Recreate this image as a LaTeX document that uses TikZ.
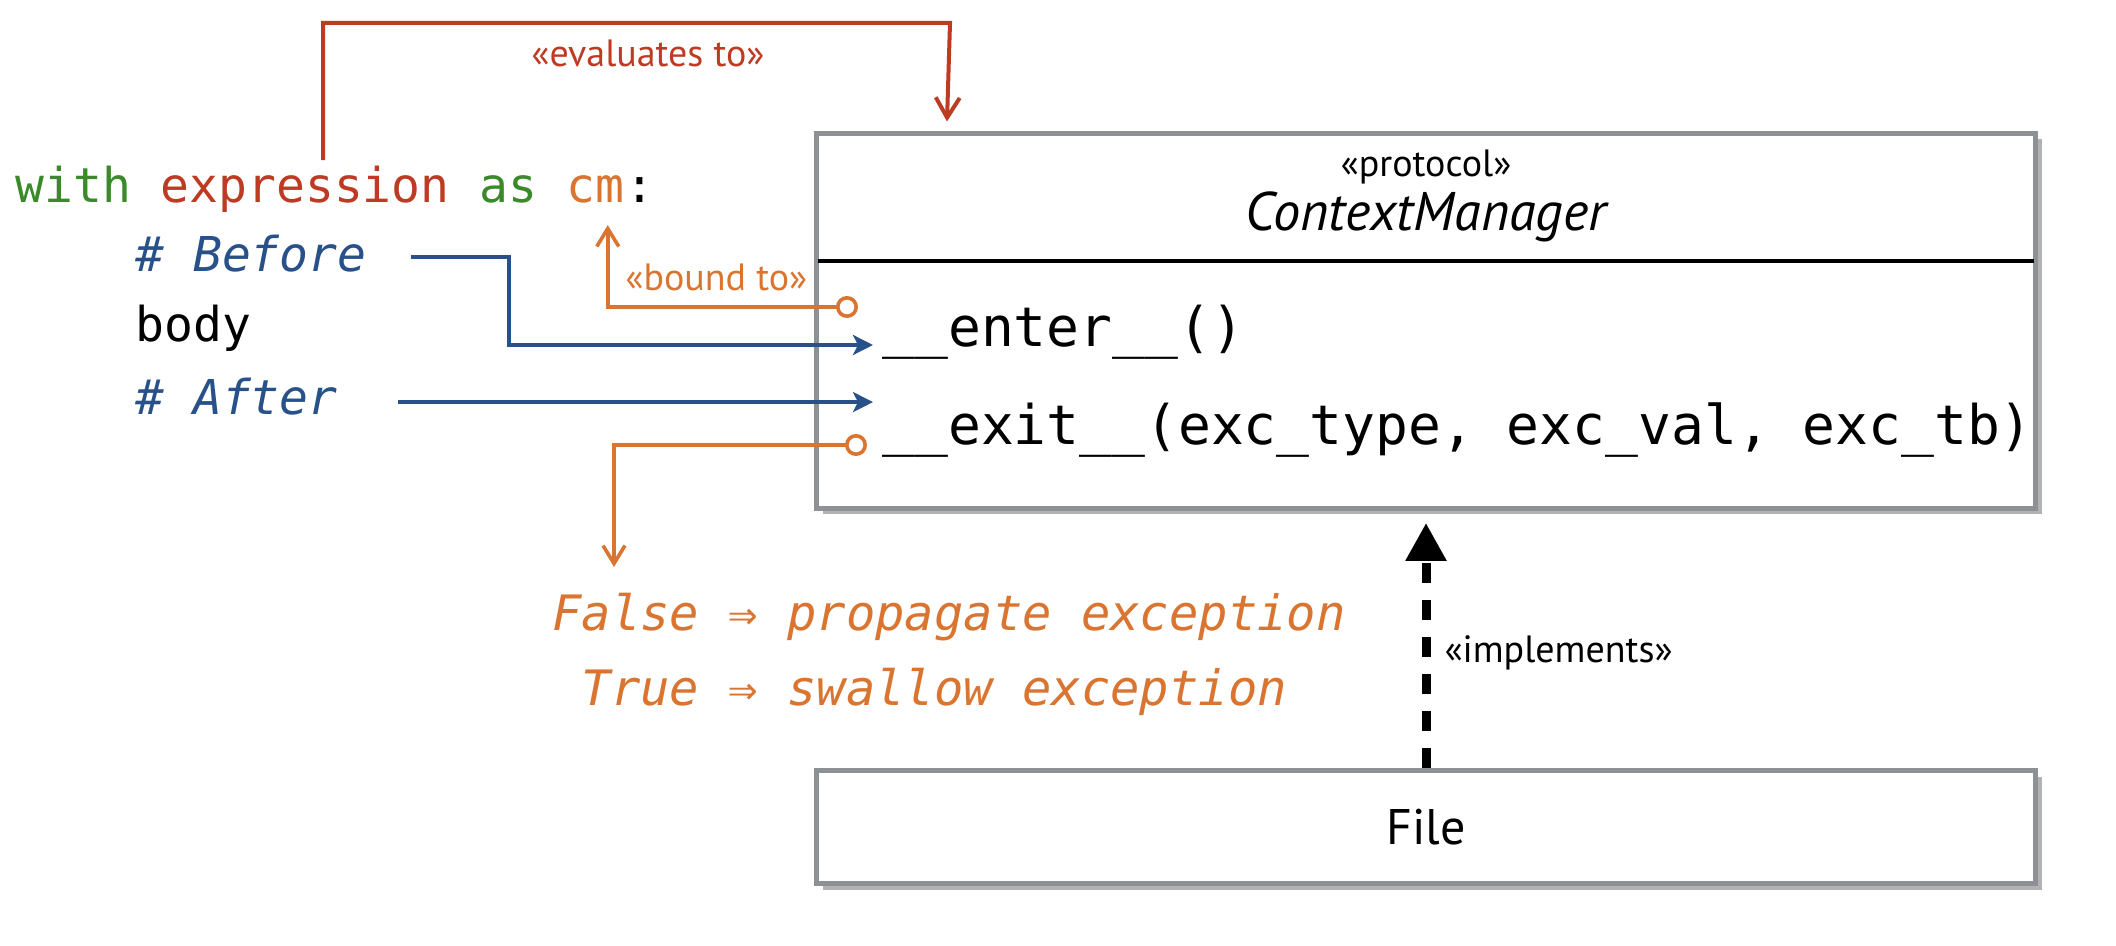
\documentclass[tikz,border=0pt]{standalone}
\usepackage{fontspec}
\setmainfont{PT Sans}
\setmonofont{DejaVu Sans Mono}
\usetikzlibrary{arrows.meta,shadows,positioning}
\definecolor{kwgreen}{HTML}{3A8A2A}
\definecolor{exprred}{HTML}{BF3A22}
\definecolor{cmorange}{HTML}{D97530}
\definecolor{stepblue}{HTML}{285189}
\definecolor{boxgray}{HTML}{8D9095}

\begin{document}
\begin{tikzpicture}[x=0.5pt,y=-0.5pt,
  code/.style={inner sep=0pt,font=\fontsize{24}{28}\selectfont\ttfamily},
  comment/.style={code,text=stepblue,font=\fontsize{24}{28}\selectfont\ttfamily\itshape},
  method/.style={inner sep=0pt,font=\fontsize{27.3}{32}\selectfont\ttfamily},
  stereo/.style={inner sep=0pt,font=\fontsize{19}{22}\selectfont},
  umlbox/.style={draw=boxgray,line width=2.5pt,fill=white,
    drop shadow={shadow xshift=3pt,shadow yshift=-3pt,opacity=.5,fill=black!60}},
  redarrow/.style={draw=exprred,line width=2pt,
    -{Straight Barb[length=10pt,width=12pt,line width=2pt]}},
  boundarrow/.style={draw=cmorange,line width=1.8pt,
    {Circle[open,length=11pt,width=11pt,fill=white]}-{Straight Barb[length=9pt,width=11pt,line width=1.8pt]}},
  stepline/.style={draw=stepblue,line width=2pt,-{Stealth[length=10pt,width=10pt,inset=2.5pt]}},
  implarrow/.style={line width=4.5pt,dash pattern=on 10pt off 8.5pt,-{Triangle[length=19pt,width=19.5pt]}}]
\useasboundingbox (0,0) rectangle (2116,946);

\node[code,anchor=base west,text=kwgreen] (kwWith) at (15,203) {with};
\node[code,anchor=base west,text=exprred] (expr) at ([xshift=14.45pt]kwWith.base east) {expression};
\node[code,anchor=base west,text=kwgreen] (kwAs) at ([xshift=14.45pt]expr.base east) {as};
\node[code,anchor=base west,text=cmorange] (cm) at ([xshift=14.45pt]kwAs.base east) {cm};
\node[code,anchor=base west] (colon) at (cm.base east) {:};
\node[comment,anchor=base west] (before) at (135,272) {\#~Before};
\node[code,anchor=base west] (body) at (135,342) {body};
\node[comment,anchor=base west] (after) at (135,415) {\#~After};

\node[umlbox,minimum width=609.5pt,minimum height=187.5pt] (cmBox) at (1426,321) {};
\node[stereo] (protoLabel) at (1426,167) {«protocol»};
\node[inner sep=0pt,font=\fontsize{27.2}{31}\selectfont\itshape] (cmName) at (1426,217) {ContextManager};
\draw[line width=2.3pt] ([xshift=2pt,yshift=-65pt]cmBox.north west) -- ([xshift=-2pt,yshift=-65pt]cmBox.north east);
\node[method,anchor=base west] (enter) at (882,347) {\_\_enter\_\_()};
\node[method,anchor=base west] (exit) at (882,445) {\_\_exit\_\_(exc\_type, exc\_val, exc\_tb)};

\node[umlbox,minimum width=609.5pt,minimum height=56.5pt,font=\fontsize{25}{30}\selectfont] (fileBox) at (1426,827) {File};

\node[code,anchor=north west,align=left,text=cmorange,
  font=\fontsize{24.4}{37.5}\selectfont\ttfamily\itshape] (outcome) at (552,593)
  {False ⇒ propagate exception\\\phantom{F}True ⇒ swallow exception};

\coordinate (evalTop) at (950,23);
\draw[redarrow] ([xshift=9pt,yshift=3pt]expr.north) |- (evalTop) -- ([xshift=66.5pt,yshift=4.75pt]cmBox.north west);
\node[stereo,text=exprred] (evalLabel) at (648,53) {«evaluates to»};

\coordinate (boundStart) at ([xshift=-12pt,yshift=20pt]enter.base west);
\draw[boundarrow] (boundStart) -| ([xshift=6pt,yshift=-10.5pt]cm.south)
  node[pos=0.283,above=7pt,stereo,text=cmorange] (boundLabel) {«bound to»};

\coordinate (exitStart) at ([xshift=-7.5pt]exit.base west);
\draw[boundarrow] (exitStart) -| ([xshift=31pt,yshift=13pt]outcome.north west);

\coordinate (beforeStart) at ([xshift=22pt,yshift=-1.5pt]before.east);
\draw[stepline] (beforeStart) -- ++(98,0) |- ([xshift=-4.5pt,yshift=1pt]enter.base west);
\coordinate (methodTip) at ([xshift=-4.5pt]enter.base west);
\coordinate (afterStart) at ([xshift=30pt,yshift=-2.5pt]after.east);
\draw[stepline] (afterStart) -- (afterStart -| methodTip);

\draw[implarrow] (fileBox.north) -- ([yshift=-6pt]cmBox.south)
  node[pos=0.47,right=7pt,stereo] (implLabel) {«implements»};
\end{tikzpicture}
\end{document}
